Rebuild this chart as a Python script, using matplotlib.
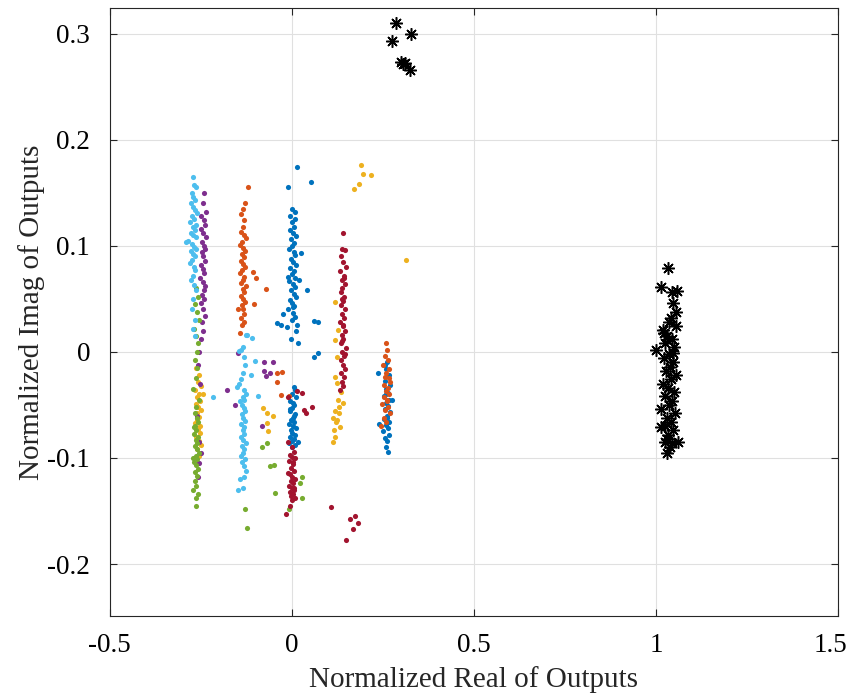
import matplotlib
matplotlib.use("Agg")
from matplotlib import pyplot as plt
from matplotlib import transforms

# colours (MATLAB default order)
c_blue = "#0072BD"
c_orange = "#D95319"
c_yellow = "#EDB120"
c_purple = "#7E2F8E"
c_green = "#77AC30"
c_lblue = "#4DBEEE"
c_red = "#A2142F"

# blue points
blue_x = [0.002, 0.008, -0.004, 0.010, 0.000, 0.006, -0.006, 0.004, 0.012, -0.002, 0.007, 0.001, -0.008,
          0.005, 0.009, -0.003, 0.003, 0.011, -0.005, 0.006, 0.000, 0.008, -0.007, 0.004, 0.010, -0.001,
          0.005, 0.013, -0.004, 0.002, 0.007, -0.009, 0.003, 0.009, 0.001, 0.015, 0.012, -0.003,
          0.014, 0.052, -0.011, 0.025, -0.011, 0.019, 0.041, 0.003, -0.025, -0.041, -0.030, -0.014,
          0.060, 0.071, 0.016, 0.071, 0.060,
          0.005, 0.010, 0.000, 0.012, -0.004, 0.007, 0.002, -0.006, 0.009, 0.003, -0.002, 0.006, -0.008,
          0.004, 0.011, -0.003, 0.001, 0.008, -0.005, 0.006, 0.002, -0.007, 0.010, 0.000, 0.005, -0.004,
          0.003, 0.016,
          0.262, 0.258, 0.266, 0.255, 0.270, 0.260, 0.264, 0.252, 0.268, 0.258, 0.263, 0.256, 0.271,
          0.261, 0.254, 0.266, 0.259, 0.264, 0.250, 0.268, 0.257, 0.262, 0.275, 0.238, 0.240, 0.260,
          0.265, 0.255, 0.258, 0.262]
blue_y = [0.135, 0.132, 0.128, 0.125, 0.122, 0.118, 0.115, 0.112, 0.109, 0.106, 0.103, 0.100, 0.097,
          0.094, 0.091, 0.088, 0.085, 0.082, 0.079, 0.076, 0.073, 0.070, 0.067, 0.064, 0.061, 0.058,
          0.055, 0.052, 0.049, 0.046, 0.043, 0.040, 0.037, 0.033, 0.030, 0.025, 0.020, 0.012,
          0.174, 0.160, 0.155, 0.093, 0.071, 0.068, 0.058, 0.042, 0.036, 0.027, 0.025, 0.023,
          0.029, 0.028, 0.008, -0.001, -0.005,
          -0.033, -0.036, -0.040, -0.043, -0.046, -0.050, -0.053, -0.056, -0.059, -0.062, -0.064, -0.066,
          -0.068, -0.070, -0.072, -0.074, -0.076, -0.078, -0.080, -0.082, -0.084, -0.086, -0.088, -0.090,
          -0.060, -0.054, -0.048, -0.085,
          -0.010, -0.016, -0.022, -0.027, -0.031, -0.035, -0.039, -0.042, -0.045, -0.048, -0.051, -0.054,
          -0.057, -0.060, -0.063, -0.066, -0.069, -0.072, -0.075, -0.078, -0.081, -0.084, -0.045, -0.020,
          -0.068, -0.090, -0.094, -0.012, -0.040, -0.062]

# orange points
orange_x = [-0.121, -0.128, -0.133, -0.140, -0.130, -0.135, -0.138, -0.132, -0.127, -0.136, -0.141, -0.134,
            -0.129, -0.137, -0.131, -0.139, -0.133, -0.128, -0.136, -0.142, -0.130, -0.134, -0.138, -0.126,
            -0.135, -0.131, -0.140, -0.133, -0.129, -0.137, -0.134, -0.132, -0.138, -0.130, -0.136,
            -0.071, -0.104, -0.148, -0.143, -0.099, -0.107, -0.041, -0.027, -0.041, -0.030, -0.008,
            0.258, 0.262, 0.255, 0.265, 0.250, 0.268, 0.260, 0.256, 0.270, 0.252, 0.263, 0.259, 0.266,
            0.254, 0.261, 0.248, 0.264, 0.257, 0.269, 0.253, 0.260, 0.245, 0.266, 0.262]
orange_y = [0.155, 0.140, 0.135, 0.130, 0.124, 0.118, 0.113, 0.110, 0.107, 0.104, 0.101, 0.098,
            0.095, 0.092, 0.089, 0.086, 0.083, 0.080, 0.077, 0.074, 0.071, 0.068, 0.065, 0.062,
            0.059, 0.056, 0.053, 0.050, 0.047, 0.044, 0.040, 0.036, 0.032, 0.028, 0.025,
            0.059, 0.045, 0.040, 0.018, 0.070, 0.075, -0.020, -0.019, -0.028, -0.041, -0.042,
            0.008, 0.002, -0.004, -0.008, -0.012, -0.016, -0.020, -0.024, -0.028, -0.031, -0.034, -0.037,
            -0.040, -0.043, -0.046, -0.049, -0.052, -0.055, -0.058, -0.062, -0.066, -0.070, -0.025, -0.045]

# yellow points
yellow_x = [-0.262, -0.255, -0.258, -0.250, -0.265, -0.256, -0.260, -0.252, -0.263, -0.257, -0.248, -0.261,
            -0.254, -0.259, -0.266, -0.253, -0.258, -0.251, -0.262, -0.256, -0.249, -0.260, -0.254, -0.257,
            -0.245,
            -0.080, -0.069, -0.052, -0.069, -0.066,
            0.118, 0.126, 0.118, 0.123, 0.118, 0.123, 0.140, 0.129, 0.118, 0.113, 0.121, 0.129, 0.132,
            0.115, 0.124, 0.118, 0.113, 0.127, 0.136,
            0.190, 0.195, 0.217, 0.184, 0.170, 0.313]
yellow_y = [-0.015, -0.022, -0.028, -0.032, -0.036, -0.040, -0.043, -0.046, -0.049, -0.052, -0.055, -0.058,
            -0.061, -0.064, -0.067, -0.070, -0.073, -0.076, -0.080, -0.084, -0.088, -0.092, -0.098, -0.105,
            -0.040,
            -0.053, -0.058, -0.060, -0.067, -0.075,
            0.047, 0.021, 0.011, -0.005, -0.024, -0.029, -0.048, -0.052, -0.056, -0.062, -0.066, -0.058,
            -0.071, -0.074, -0.064, -0.080, -0.085, -0.045, -0.038,
            0.176, 0.168, 0.167, 0.158, 0.154, 0.087]

# purple points
purple_x = [-0.240, -0.245, -0.236, -0.248, -0.242, -0.238, -0.250, -0.244, -0.235, -0.247, -0.241, -0.239,
            -0.246, -0.243, -0.237, -0.249, -0.244, -0.240, -0.252, -0.245, -0.238, -0.242, -0.247, -0.241,
            -0.250, -0.244, -0.239, -0.246, -0.243, -0.248, -0.255, -0.258, -0.252, -0.260, -0.256, -0.250,
            -0.254, -0.258,
            -0.148, -0.178, -0.156, -0.077, -0.052, -0.077, -0.060, -0.071, -0.082]
purple_y = [0.150, 0.140, 0.132, 0.128, 0.124, 0.120, 0.116, 0.112, 0.108, 0.104, 0.100, 0.097,
            0.094, 0.090, 0.086, 0.082, 0.078, 0.074, 0.070, 0.066, 0.062, 0.058, 0.054, 0.050,
            0.046, 0.040, 0.034, 0.028, 0.020, 0.012, 0.000, -0.012, -0.030, -0.060, -0.085, -0.095,
            -0.105, -0.118,
            -0.001, -0.036, -0.050, -0.010, -0.010, -0.018, -0.020, -0.023, -0.070]

# green points
green_x = [-0.262, -0.258, -0.265, -0.260, -0.255, -0.268, -0.263, -0.257, -0.261, -0.266, -0.259, -0.264,
           -0.270, -0.256, -0.262, -0.267, -0.260, -0.258, -0.265, -0.262, -0.269, -0.257, -0.263, -0.260,
           -0.266, -0.261, -0.255, -0.264, -0.259, -0.268, -0.262, -0.258, -0.265, -0.272, -0.260, -0.266,
           -0.263, -0.270, -0.258, -0.264, -0.268, -0.262,
           -0.069, -0.082, -0.060, -0.049, -0.047, -0.129, -0.124, 0.027, 0.022, 0.027, -0.008]
green_y = [0.060, 0.052, 0.045, 0.038, 0.030, 0.022, 0.015, 0.008, 0.000, -0.008, -0.015, -0.025,
           -0.035, -0.045, -0.052, -0.058, -0.062, -0.066, -0.070, -0.074, -0.077, -0.080, -0.083, -0.086,
           -0.089, -0.092, -0.095, -0.098, -0.101, -0.104, -0.107, -0.110, -0.113, -0.100, -0.117, -0.122,
           -0.126, -0.130, -0.134, -0.138, -0.071, -0.145,
           -0.086, -0.090, -0.108, -0.107, -0.133, -0.148, -0.166, -0.118, -0.124, -0.138, -0.148]

# light blue points
lblue_x = [-0.272, -0.268, -0.262, -0.275, -0.270, -0.265, -0.278, -0.271, -0.266, -0.260, -0.274, -0.269,
           -0.280, -0.263, -0.272, -0.267, -0.276, -0.270, -0.264, -0.285, -0.290, -0.273, -0.268, -0.262,
           -0.277, -0.271, -0.266, -0.274, -0.279, -0.269, -0.265, -0.272, -0.276, -0.268, -0.263, -0.270,
           -0.274, -0.267, -0.271, -0.266,
           -0.125, -0.138, -0.132, -0.128, -0.135, -0.140, -0.145, -0.150, -0.130, -0.127, -0.133, -0.142,
           -0.136, -0.131, -0.129, -0.137, -0.134, -0.128, -0.139, -0.132, -0.135, -0.130, -0.138, -0.133,
           -0.127, -0.136, -0.131, -0.134, -0.140, -0.129, -0.137, -0.132, -0.126, -0.142, -0.135, -0.130,
           -0.217, -0.093, -0.100, -0.113, -0.132, -0.148, -0.124, -0.110, -0.135, -0.145]
lblue_y = [0.165, 0.157, 0.155, 0.150, 0.146, 0.143, 0.140, 0.137, 0.134, 0.131, 0.128, 0.125,
           0.122, 0.120, 0.118, 0.115, 0.112, 0.110, 0.108, 0.105, 0.104, 0.102, 0.099, 0.097,
           0.095, 0.092, 0.090, 0.087, 0.084, 0.080, 0.077, 0.072, 0.068, 0.063, 0.058, 0.050,
           0.040, 0.030, 0.022, 0.015,
           0.016, 0.002, -0.005, -0.012, -0.020, -0.026, -0.030, -0.033, -0.036, -0.040, -0.043, -0.046,
           -0.050, -0.053, -0.056, -0.059, -0.062, -0.065, -0.068, -0.071, -0.074, -0.077, -0.080, -0.083,
           -0.086, -0.089, -0.092, -0.095, -0.098, -0.101, -0.104, -0.108, -0.112, -0.120, -0.128, -0.045,
           -0.043, -0.042, -0.009, -0.022, -0.118, -0.130, 0.016, 0.013, 0.005, 0.001]

# dark red points
red_x = [0.142, 0.138, 0.145, 0.135, 0.140, 0.148, 0.133, 0.143, 0.137, 0.146, 0.139, 0.134, 0.144,
         0.141, 0.136, 0.147, 0.138, 0.143, 0.132, 0.140, 0.145, 0.137, 0.142, 0.135, 0.149, 0.139,
         0.144, 0.134, 0.141, 0.146, 0.136, 0.143, 0.138, 0.140, 0.133, 0.145, 0.137, 0.142, 0.139, 0.144,
         0.000, 0.005, -0.004, 0.008, -0.008, 0.003, -0.002, 0.006, -0.006, 0.002, 0.009, -0.003, 0.004,
         -0.007, 0.001, 0.007, -0.005, 0.003, -0.001, 0.010, -0.009, 0.004, 0.000, -0.004, 0.006, 0.002,
         0.014, 0.027, -0.011, 0.033, 0.038, 0.055, -0.011, -0.016,
         0.107, 0.159, 0.173, 0.181, 0.167, 0.150]
red_y = [0.112, 0.097, 0.096, 0.090, 0.085, 0.080, 0.076, 0.072, 0.068, 0.064, 0.060, 0.056, 0.052,
         0.048, 0.044, 0.040, 0.036, 0.032, 0.028, 0.024, 0.020, 0.016, 0.012, 0.008, 0.004, 0.000,
         -0.004, -0.008, -0.012, -0.016, -0.020, -0.024, -0.028, -0.032, -0.036, -0.002, 0.010, 0.025,
         0.050, 0.070,
         -0.090, -0.094, -0.097, -0.100, -0.103, -0.106, -0.109, -0.112, -0.115, -0.118, -0.120, -0.122,
         -0.124, -0.126, -0.128, -0.130, -0.132, -0.134, -0.136, -0.138, -0.114, -0.104, -0.140, -0.145,
         -0.128, -0.099,
         -0.037, -0.039, -0.043, -0.055, -0.058, -0.052, -0.085, -0.153,
         -0.146, -0.158, -0.155, -0.161, -0.167, -0.177]

# black asterisks
star_x = [0.285, 0.327, 0.274, 0.305, 0.310, 0.324, 0.300,
          1.032, 1.013, 1.043, 1.057, 1.048, 1.054, 1.040, 1.018, 1.056, 1.030, 1.045, 1.025, 1.050,
          1.000, 1.035, 1.022, 1.048, 1.038, 1.028, 1.055, 1.042, 1.020, 1.033, 1.050, 1.026, 1.044,
          1.036, 1.015, 1.052, 1.030, 1.040, 1.024, 1.047, 1.034, 1.029, 1.043, 1.015, 1.038, 1.024,
          1.060, 1.029, 1.035, 1.048, 1.022]
star_y = [0.310, 0.300, 0.293, 0.271, 0.272, 0.266, 0.273,
          0.079, 0.061, 0.056, 0.057, 0.046, 0.038, 0.032, 0.021, 0.024, 0.015, 0.012, 0.008, 0.005,
          0.002, -0.002, -0.006, -0.010, -0.014, -0.018, -0.022, -0.026, -0.030, -0.034, -0.038, -0.042,
          -0.046, -0.050, -0.054, -0.058, -0.062, -0.066, -0.070, -0.074, -0.078, -0.082, -0.086, -0.071,
          -0.090, -0.085, -0.085, -0.095, 0.028, -0.001, 0.018]

xticks = [-0.5, 0, 0.5, 1, 1.5]
xtick_labels = ["-0.5", "0", "0.5", "1", "1.5"]
yticks = [-0.2, -0.1, 0, 0.1, 0.2, 0.3]
ytick_labels = ["-0.2", "-0.1", "0", "0.1", "0.2", "0.3"]

plt.rcParams["font.family"] = ["Liberation Serif", "DejaVu Serif"]

fig = plt.figure(figsize=(8.5, 7), dpi=100)
ax = fig.add_axes([0.129, 0.12, 0.857, 0.869])

series = [(blue_x, blue_y, c_blue), (orange_x, orange_y, c_orange), (yellow_x, yellow_y, c_yellow),
          (purple_x, purple_y, c_purple), (green_x, green_y, c_green), (lblue_x, lblue_y, c_lblue),
          (red_x, red_y, c_red)]
for (xs, ys, col) in series:
    ax.plot(xs, ys, linestyle="none", marker="o", markersize=3.7, markeredgewidth=0, color=col)

ax.plot(star_x, star_y, linestyle="none", marker=(8, 2, 0), markersize=9, markeredgewidth=1.1,
        color="black")

ax.set_xlim(-0.5, 1.5)
ax.set_ylim(-0.249, 0.3245)
ax.set_xticks(xticks)
ax.set_xticklabels(xtick_labels)
ax.set_yticks(yticks)
ax.set_yticklabels(ytick_labels)
ax.grid(True, color="#e0e0e0", linewidth=0.8)
ax.set_axisbelow(True)
ax.tick_params(direction="in", top=True, right=True, labelsize=19.5, color="#262626", length=5)
ax.tick_params(axis="x", pad=12)
ax.tick_params(axis="y", pad=14)
for s in ax.spines.values():
    s.set_color("#262626")
    s.set_linewidth(0.8)

# pull the last x tick label inside the figure, like the reference
last = ax.get_xticklabels()[-1]
last.set_transform(last.get_transform() + transforms.ScaledTranslation(-8 / 100, 0, fig.dpi_scale_trans))

ax.set_xlabel("Normalized Real of Outputs", fontsize=21, color="#262626", labelpad=6)
ax.set_ylabel("Normalized Imag of Outputs", fontsize=21, color="#262626", labelpad=2)

fig.savefig("out.png", dpi=100)
